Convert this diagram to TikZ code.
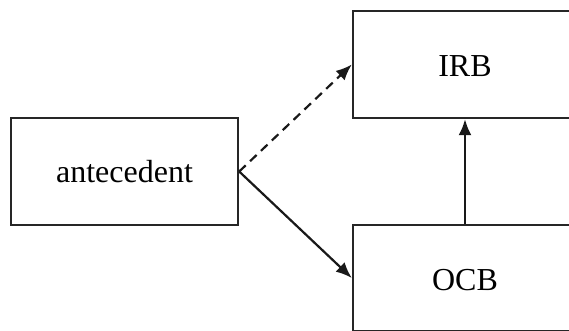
\documentclass[tikz,border=0pt]{standalone}
\usepackage{fontspec}
\setmainfont{Liberation Serif}
\usetikzlibrary{arrows.meta}
\begin{document}
\begin{tikzpicture}[x=1pt,y=-1pt,
  box/.style={draw=black!85, line width=2.4pt, fill=white, inner sep=0pt, font=\fontsize{32}{36}\selectfont},
  conn/.style={draw=black!90, line width=2.2pt, -{Latex[length=16pt,width=13pt]}}]
\useasboundingbox (0,0) rectangle (569,330);
\clip (0,0) rectangle (569,330);
\fill[white] (0,0) rectangle (569,330);
\node[box, minimum width=227pt, minimum height=107pt] (ant) at (124.5,171.5) {antecedent};
\node[box, minimum width=224pt, minimum height=107pt] (irb) at (465,64.5) {};
\node[box, minimum width=224pt, minimum height=106pt] (ocb) at (465,278) {};
\node[font=\fontsize{32}{36}\selectfont] (irbt) at (465,66) {IRB};
\node[font=\fontsize{32}{36}\selectfont] (ocbt) at (465,280) {OCB};
\draw[conn, dash pattern=on 9pt off 6pt] (ant.east) -- (irb.west);
\draw[conn] (ant.east) -- (ocb.west);
\draw[conn] (ocb.north) -- (irb.south);
\end{tikzpicture}
\end{document}
